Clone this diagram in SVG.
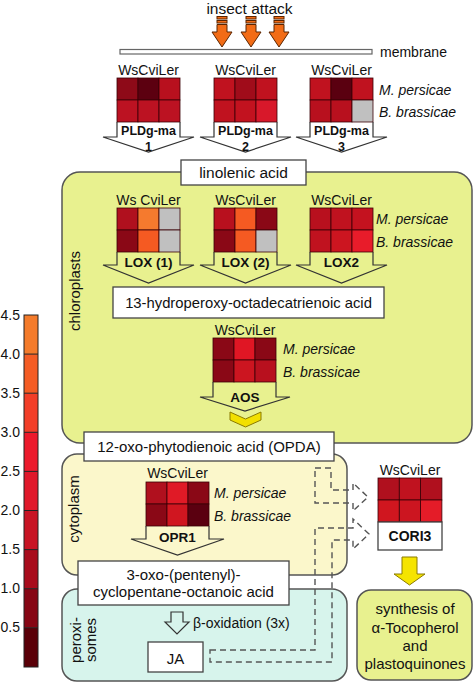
<svg xmlns="http://www.w3.org/2000/svg" width="474" height="683" viewBox="0 0 474 683">
<style>
text{font-family:"Liberation Sans",Arial,sans-serif;fill:#111}
.t{font-size:15px;text-anchor:middle}
.h{font-size:14px;text-anchor:middle}
.sp{font-size:14px;font-style:italic}
.b{font-size:13.5px;font-weight:bold;text-anchor:middle}
.bp{font-size:12.5px;font-weight:bold;text-anchor:middle}
.c{stroke:#3a0006;stroke-width:0.8}
.box{fill:#fff;stroke:#444;stroke-width:1.3}
.reg{stroke:#555;stroke-width:1.5}
.ha{fill:none;stroke:#333;stroke-width:1.2;stroke-linejoin:miter}
.dash{fill:none;stroke:#555;stroke-width:1.4;stroke-dasharray:6 4}
.ins{fill:#f26c16;stroke:#5a2400;stroke-width:1}
.lab{font-size:14px;text-anchor:end}
</style>

<!-- compartments -->
<g id="chloroplasts">
<rect class="reg" x="62" y="172" width="410" height="271" rx="18" fill="#e8f18f"/>
<text class="t" transform="translate(80,291) rotate(-90)">chloroplasts</text>
</g>
<g id="cytoplasm">
<rect class="reg" x="62" y="454" width="285" height="121" rx="15" fill="#fbf7cb"/>
<text class="t" transform="translate(79,509) rotate(-90)">cytoplasm</text>
</g>
<g id="peroxisomes">
<rect class="reg" x="62" y="589" width="285" height="92" rx="15" fill="#d7f4ec"/>
<text class="t" transform="translate(81,640) rotate(-90)">peroxi-</text>
<text class="t" transform="translate(96,640) rotate(-90)">somes</text>
</g>

<!-- insect attack -->
<g id="insect">
<text class="t" x="249.5" y="13.5" style="font-size:15.5px">insect attack</text>
<g class="ins">
<rect x="217" y="16.5" width="10" height="2.5"/><rect x="217" y="20.5" width="10" height="2.5"/>
<path d="M217,24.5 H227 V32 H232 L222,47 L212,32 H217 Z"/>
<rect x="246" y="16.5" width="10" height="2.5"/><rect x="246" y="20.5" width="10" height="2.5"/>
<path d="M246,24.5 H256 V32 H261 L251,47 L241,32 H246 Z"/>
<rect x="274" y="16.5" width="10" height="2.5"/><rect x="274" y="20.5" width="10" height="2.5"/>
<path d="M274,24.5 H284 V32 H289 L279,47 L269,32 H274 Z"/>
</g>
</g>

<g id="membrane">
<rect x="120" y="49.5" width="252" height="4.5" fill="#fff" stroke="#666" stroke-width="1.2"/>
<text x="380" y="57" style="font-size:14px">membrane</text>
</g>

<!-- PLDg-ma heatmaps -->
<g id="pldg1">
<text class="h" x="148.5" y="75">WsCviLer</text>
<rect class="c" x="117" y="78" width="21" height="22" fill="#8e0a18"/>
<rect class="c" x="138" y="78" width="21" height="22" fill="#5c0010"/>
<rect class="c" x="159" y="78" width="21" height="22" fill="#b8101e"/>
<rect class="c" x="117" y="100" width="21" height="22" fill="#bc1222"/>
<rect class="c" x="138" y="100" width="21" height="22" fill="#bc1222"/>
<rect class="c" x="159" y="100" width="21" height="22" fill="#bc1222"/>
<path class="ha" d="M117,122 V137 H103 L148.5,152 L194,137 H180 V122"/>
<text class="bp" x="148.5" y="135">PLDg-ma</text>
<text class="bp" x="148.5" y="150.5">1</text>
</g>
<g id="pldg2">
<text class="h" x="245.5" y="75">WsCviLer</text>
<rect class="c" x="214" y="78" width="21" height="22" fill="#c0121f"/>
<rect class="c" x="235" y="78" width="21" height="22" fill="#a00c1a"/>
<rect class="c" x="256" y="78" width="21" height="22" fill="#c0121f"/>
<rect class="c" x="214" y="100" width="21" height="22" fill="#c0121f"/>
<rect class="c" x="235" y="100" width="21" height="22" fill="#c2121f"/>
<rect class="c" x="256" y="100" width="21" height="22" fill="#d8182a"/>
<path class="ha" d="M214,122 V137 H200 L245.5,152 L291,137 H277 V122"/>
<text class="bp" x="245.5" y="135">PLDg-ma</text>
<text class="bp" x="245.5" y="150.5">2</text>
</g>
<g id="pldg3">
<text class="h" x="341.5" y="75">WsCviLer</text>
<rect class="c" x="310" y="78" width="21" height="22" fill="#c0121f"/>
<rect class="c" x="331" y="78" width="21" height="22" fill="#5a0010"/>
<rect class="c" x="352" y="78" width="21" height="22" fill="#c0121f"/>
<rect class="c" x="310" y="100" width="21" height="22" fill="#b8101e"/>
<rect class="c" x="331" y="100" width="21" height="22" fill="#b8101e"/>
<rect class="c" x="352" y="100" width="21" height="22" fill="#c0c0c0"/>
<path class="ha" d="M310,122 V137 H296 L341.5,152 L387,137 H373 V122"/>
<text class="bp" x="341.5" y="135">PLDg-ma</text>
<text class="bp" x="341.5" y="150.5">3</text>
</g>
<g id="species1">
<text class="sp" x="379" y="95">M. persicae</text>
<text class="sp" x="379" y="117">B. brassicae</text>
</g>

<g id="linolenic">
<rect class="box" x="181" y="160" width="125" height="25"/>
<text class="t" x="243.5" y="178" style="font-size:15.5px">linolenic acid</text>
</g>

<!-- LOX heatmaps -->
<g id="lox1">
<text class="h" x="148.5" y="205">Ws CviLer</text>
<rect class="c" x="117" y="208" width="21" height="22" fill="#b0101e"/>
<rect class="c" x="138" y="208" width="21" height="22" fill="#f57a2e"/>
<rect class="c" x="159" y="208" width="21" height="22" fill="#c0c0c0"/>
<rect class="c" x="117" y="230" width="21" height="22" fill="#8a0816"/>
<rect class="c" x="138" y="230" width="21" height="22" fill="#f55a22"/>
<rect class="c" x="159" y="230" width="21" height="22" fill="#c0c0c0"/>
<path class="ha" d="M117,252 V265 H103 L148.5,283 L194,265 H180 V252"/>
<text class="b" x="148.5" y="267">LOX (1)</text>
</g>
<g id="lox2a">
<text class="h" x="245.5" y="205">WsCviLer</text>
<rect class="c" x="214" y="208" width="21" height="22" fill="#b8101e"/>
<rect class="c" x="235" y="208" width="21" height="22" fill="#f55a22"/>
<rect class="c" x="256" y="208" width="21" height="22" fill="#8a0816"/>
<rect class="c" x="214" y="230" width="21" height="22" fill="#8a0816"/>
<rect class="c" x="235" y="230" width="21" height="22" fill="#f55a22"/>
<rect class="c" x="256" y="230" width="21" height="22" fill="#c0c0c0"/>
<path class="ha" d="M214,252 V265 H200 L245.5,283 L291,265 H277 V252"/>
<text class="b" x="245.5" y="267">LOX (2)</text>
</g>
<g id="lox2">
<text class="h" x="341.5" y="205">WsCviLer</text>
<rect class="c" x="310" y="208" width="21" height="22" fill="#b8101e"/>
<rect class="c" x="331" y="208" width="21" height="22" fill="#c0121f"/>
<rect class="c" x="352" y="208" width="21" height="22" fill="#c4121f"/>
<rect class="c" x="310" y="230" width="21" height="22" fill="#c0121f"/>
<rect class="c" x="331" y="230" width="21" height="22" fill="#cc1520"/>
<rect class="c" x="352" y="230" width="21" height="22" fill="#e81c2a"/>
<path class="ha" d="M310,252 V265 H296 L341.5,283 L387,265 H373 V252"/>
<text class="b" x="341.5" y="267">LOX2</text>
</g>
<g id="species2">
<text class="sp" x="376" y="224">M. persicae</text>
<text class="sp" x="376" y="247">B. brassicae</text>
</g>

<g id="hpot">
<rect class="box" x="113" y="287" width="271" height="31"/>
<text class="t" x="248.5" y="308" style="font-size:14.8px">13-hydroperoxy-octadecatrienoic acid</text>
</g>

<g id="aos">
<text class="h" x="245" y="335">WsCviLer</text>
<rect class="c" x="213" y="338" width="21" height="22" fill="#8a0816"/>
<rect class="c" x="234" y="338" width="21" height="22" fill="#e01624"/>
<rect class="c" x="255" y="338" width="21" height="22" fill="#8a0816"/>
<rect class="c" x="213" y="360" width="21" height="22" fill="#8a0816"/>
<rect class="c" x="234" y="360" width="21" height="22" fill="#cc1520"/>
<rect class="c" x="255" y="360" width="21" height="22" fill="#b8101e"/>
<path class="ha" d="M213,382 V397 H200 L245,411 L290,397 H276 V382"/>
<text class="b" x="245" y="402">AOS</text>
<text class="sp" x="283" y="354">M. persicae</text>
<text class="sp" x="283" y="377">B. brassicae</text>
<path d="M230,412 L245.5,419 L261,412 V420 L245.5,427 L230,420 Z" fill="#f2e000" stroke="#8a7a00" stroke-width="1"/>
</g>

<g id="opda">
<rect class="box" x="84" y="432" width="250" height="29"/>
<text class="t" x="209" y="452">12-oxo-phytodienoic acid (OPDA)</text>
</g>

<g id="opr1">
<text class="h" x="177.5" y="478">WsCviLer</text>
<rect class="c" x="146" y="482" width="21" height="22" fill="#b0101e"/>
<rect class="c" x="167" y="482" width="21" height="22" fill="#e01a26"/>
<rect class="c" x="188" y="482" width="21" height="22" fill="#8a0816"/>
<rect class="c" x="146" y="504" width="21" height="22" fill="#8a0816"/>
<rect class="c" x="167" y="504" width="21" height="22" fill="#d01620"/>
<rect class="c" x="188" y="504" width="21" height="22" fill="#5a0010"/>
<path class="ha" d="M146,526 V539 H131 L177.5,555 L224,539 H209 V526"/>
<text class="b" x="177.5" y="542">OPR1</text>
<text class="sp" x="214" y="498">M. persicae</text>
<text class="sp" x="214" y="521">B. brassicae</text>
</g>

<g id="opc8">
<rect class="box" x="78" y="561" width="211" height="44"/>
<text class="t" x="183.5" y="580">3-oxo-(pentenyl)-</text>
<text class="t" x="183.5" y="597">cyclopentane-octanoic acid</text>
</g>

<g id="betaox">
<path class="ha" d="M171,612 H183 V622 H189 L177,634 L165,622 H171 Z" fill="#fff"/>
<text x="193" y="628" style="font-size:14px">β-oxidation (3x)</text>
</g>

<g id="ja">
<rect class="box" x="148" y="642" width="55" height="30"/>
<text class="t" x="175.5" y="664">JA</text>
</g>

<g id="cori3">
<text class="h" x="410" y="475">WsCviLer</text>
<rect class="c" x="378" y="478" width="21.3" height="22" fill="#b0101e"/>
<rect class="c" x="399.3" y="478" width="21.3" height="22" fill="#c0121f"/>
<rect class="c" x="420.6" y="478" width="21.3" height="22" fill="#b0101e"/>
<rect class="c" x="378" y="500" width="21.3" height="22" fill="#d0161f"/>
<rect class="c" x="399.3" y="500" width="21.3" height="22" fill="#cc1520"/>
<rect class="c" x="420.6" y="500" width="21.3" height="22" fill="#e41c28"/>
<rect class="box" x="378" y="522" width="64" height="28"/>
<text class="b" x="410" y="541" style="font-size:14px">CORI3</text>
</g>

<g id="yellowarrow">
<path d="M402,557 H417 V574 H425 L409.5,585 L394,574 H402 Z" fill="#f5e400" stroke="#8a7a00" stroke-width="1"/>
</g>

<g id="synthesis">
<rect class="reg" x="357" y="590" width="115" height="90" rx="14" fill="#e8f18f"/>
<text class="t" x="415" y="614">synthesis of</text>
<text class="t" x="415" y="633">α-Tocopherol</text>
<text class="t" x="415" y="651">and</text>
<text class="t" x="415" y="669">plastoquinones</text>
</g>

<!-- connectors -->
<g id="connectors">
<path class="dash" d="M315,468 H331 V490 H353 V483 L368,497 L353,511 V503 H315 Z"/>
<path class="dash" d="M210,650 H315 V528 H353 V519 L369,534 L353,549 V540 H332 V662 H210 Z"/>
</g>

<!-- colour scale -->
<g id="scale">
<rect x="24" y="315" width="14" height="39.1" fill="#f47b2b"/>
<rect x="24" y="354.1" width="14" height="39.1" fill="#f45c24"/>
<rect x="24" y="393.2" width="14" height="39.1" fill="#f23e28"/>
<rect x="24" y="432.3" width="14" height="39.1" fill="#ec1a2c"/>
<rect x="24" y="471.4" width="14" height="39.1" fill="#e0182a"/>
<rect x="24" y="510.5" width="14" height="39.1" fill="#c81424"/>
<rect x="24" y="549.6" width="14" height="39.1" fill="#a80c1c"/>
<rect x="24" y="588.7" width="14" height="39.1" fill="#860614"/>
<rect x="24" y="627.8" width="14" height="39.2" fill="#5a0008"/>
<g stroke="#222" stroke-width="1">
<rect x="24" y="315" width="14" height="352" fill="none"/>
<path d="M24,354.1 H38 M24,393.2 H38 M24,432.3 H38 M24,471.4 H38 M24,510.5 H38 M24,549.6 H38 M24,588.7 H38 M24,627.8 H38"/>
</g>
<text class="lab" x="20" y="320">4.5</text>
<text class="lab" x="20" y="359">4.0</text>
<text class="lab" x="20" y="398">3.5</text>
<text class="lab" x="20" y="437">3.0</text>
<text class="lab" x="20" y="476">2.5</text>
<text class="lab" x="20" y="515">2.0</text>
<text class="lab" x="20" y="554">1.5</text>
<text class="lab" x="20" y="593">1.0</text>
<text class="lab" x="20" y="632">0.5</text>
</g>
</svg>
